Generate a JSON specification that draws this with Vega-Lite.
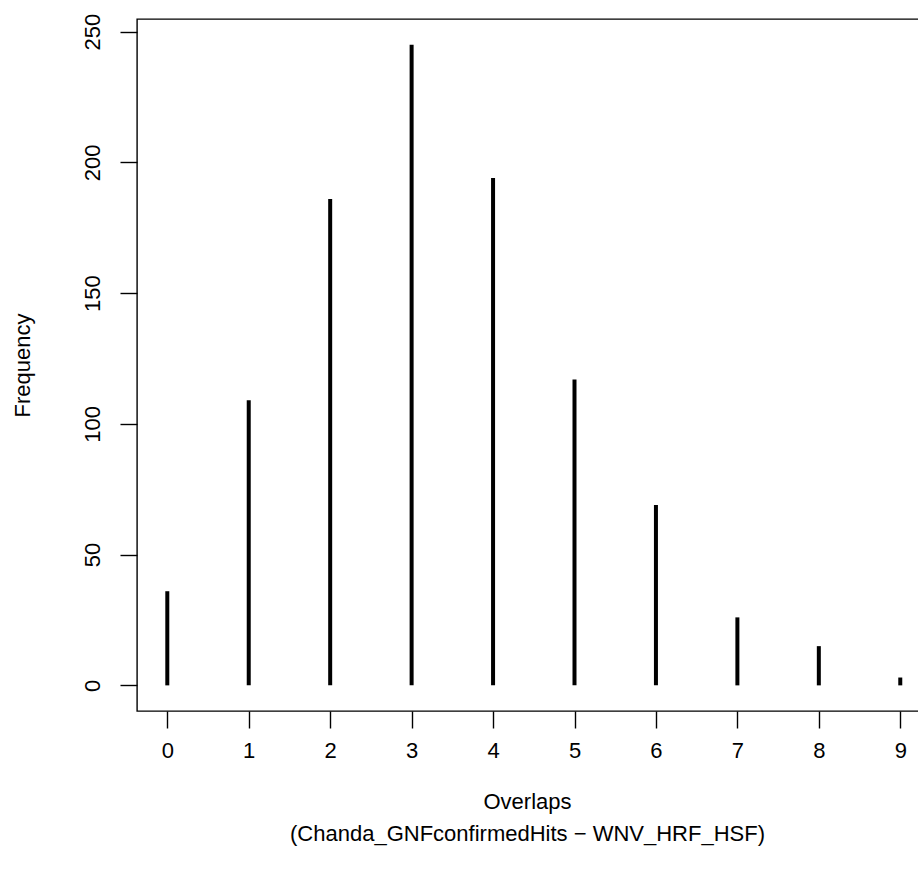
{
  "$schema": "https://vega.github.io/schema/vega-lite/v6.json",
  "autosize": {"type": "none"},
  "padding": {"left": 137, "top": 19, "right": 0, "bottom": 167},
  "width": 782,
  "height": 692,
  "background": "white",
  "config": {
    "view": {"stroke": "black", "strokeWidth": 1.4, "fill": "white"},
    "font": "Liberation Sans",
    "axis": {
      "grid": false,
      "domain": false,
      "tickColor": "black",
      "tickWidth": 1.4,
      "tickSize": 17,
      "labelFont": "Liberation Sans",
      "labelFontSize": 22,
      "labelColor": "black",
      "titleFont": "Liberation Sans",
      "titleFontSize": 22,
      "titleFontWeight": "normal",
      "titleColor": "black"
    }
  },
  "data": {
    "values": [
      {"overlaps": 0, "frequency": 36},
      {"overlaps": 1, "frequency": 109},
      {"overlaps": 2, "frequency": 186},
      {"overlaps": 3, "frequency": 245},
      {"overlaps": 4, "frequency": 194},
      {"overlaps": 5, "frequency": 117},
      {"overlaps": 6, "frequency": 69},
      {"overlaps": 7, "frequency": 26},
      {"overlaps": 8, "frequency": 15},
      {"overlaps": 9, "frequency": 3}
    ]
  },
  "mark": {"type": "rule", "stroke": "black", "strokeWidth": 4, "strokeCap": "butt"},
  "encoding": {
    "x": {
      "field": "overlaps",
      "type": "quantitative",
      "scale": {"domain": [-0.372, 9.23], "nice": false, "zero": false},
      "axis": {
        "values": [0, 1, 2, 3, 4, 5, 6, 7, 8, 9],
        "labelPadding": 12,
        "labelBaseline": "top",
        "labelFlush": false,
        "labelOverlap": false,
        "title": ["Overlaps", "(Chanda_GNFconfirmedHits \u2212 WNV_HRF_HSF)"],
        "titleLineHeight": 32,
        "titleBaseline": "alphabetic",
        "titleAnchor": "middle",
        "titleY": 97,
        "titleX": 390
      }
    },
    "y": {
      "field": "frequency",
      "type": "quantitative",
      "scale": {"domain": [-9.8, 254.8], "nice": false, "zero": false},
      "axis": {
        "values": [0, 50, 100, 150, 200, 250],
        "labelAngle": -90,
        "labelAlign": "center",
        "labelBaseline": "alphabetic",
        "labelPadding": 21,
        "labelFlush": false,
        "labelOverlap": false,
        "title": "Frequency",
        "titleAngle": -90,
        "titleAlign": "center",
        "titleBaseline": "middle",
        "titleX": -115,
        "titleY": 346
      }
    },
    "y2": {"datum": 0}
  }
}
